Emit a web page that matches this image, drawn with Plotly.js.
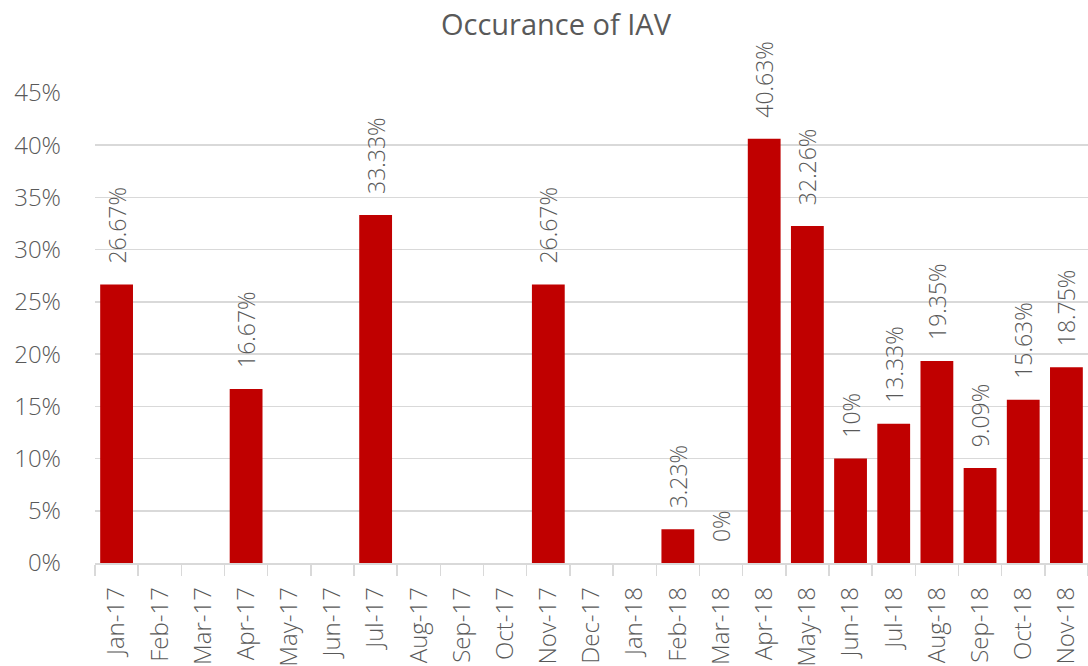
<!DOCTYPE html>
<html>
<head>
<meta charset="utf-8">
<script src="https://cdn.plot.ly/plotly-3.0.1.min.js"></script>
<style>html,body{margin:0;padding:0;overflow:hidden;background:#fff}#chart{width:1088px;height:666px}</style>
</head>
<body>
<div id="chart"></div>
<script>
const months = ["Jan-17","Feb-17","Mar-17","Apr-17","May-17","Jun-17","Jul-17","Aug-17","Sep-17","Oct-17","Nov-17","Dec-17","Jan-18","Feb-18","Mar-18","Apr-18","May-18","Jun-18","Jul-18","Aug-18","Sep-18","Oct-18","Nov-18"];
const occurrence = [26.67,null,null,16.67,null,null,33.33,null,null,null,26.67,null,null,3.23,0,40.63,32.26,10,13.33,19.35,9.09,15.63,18.75];
const yTicks = [0,5,10,15,20,25,30,35,40,45];

const PAD = "\u00A0\u00A0\u00A0";
const labels = occurrence.map(v => v === null ? "" : PAD + String(v) + "%");
const FONT = "Open Sans, Noto Sans, sans-serif";
const GREY = "#595959";

Plotly.newPlot("chart", [{
  type: "bar",
  x: months,
  y: occurrence,
  text: labels,
  textposition: "outside",
  textangle: -90,
  cliponaxis: false,
  constraintext: "none",
  textfont: {family: FONT, size: 23, color: GREY, weight: 300},
  marker: {color: "#C00000"},
  hoverinfo: "x+y"
}], {
  width: 1088, height: 666,
  margin: {l: 95, r: 0, t: 93, b: 103},
  paper_bgcolor: "#fff", plot_bgcolor: "#fff",
  bargap: 0.24,
  showlegend: false,
  title: {text: "Occurance of IAV", x: 0.511, xanchor: "center", y: 0.962, yanchor: "middle",
          font: {family: FONT, size: 29, color: GREY, weight: 400}},
  xaxis: {type: "category", tickangle: -90, showline: true, linecolor: "#D9D9D9", linewidth: 1.5,
          ticks: "outside", tickson: "boundaries", ticklen: 11, tickcolor: "#D9D9D9", tickwidth: 1.5,
          ticklabelstandoff: 13,
          tickfont: {family: FONT, size: 24, color: GREY, weight: 300}, showgrid: false, automargin: false},
  yaxis: {range: [0, 45], tickvals: yTicks, ticktext: yTicks.map(v => v + "%"),
          showgrid: true, gridcolor: "#D9D9D9", gridwidth: 1.5, zeroline: false, showline: false,
          ticks: "", ticklabelstandoff: 33,
          tickfont: {family: FONT, size: 24, color: GREY, weight: 300}, automargin: false}
}, {displayModeBar: false, staticPlot: true});
</script>
</body>
</html>
